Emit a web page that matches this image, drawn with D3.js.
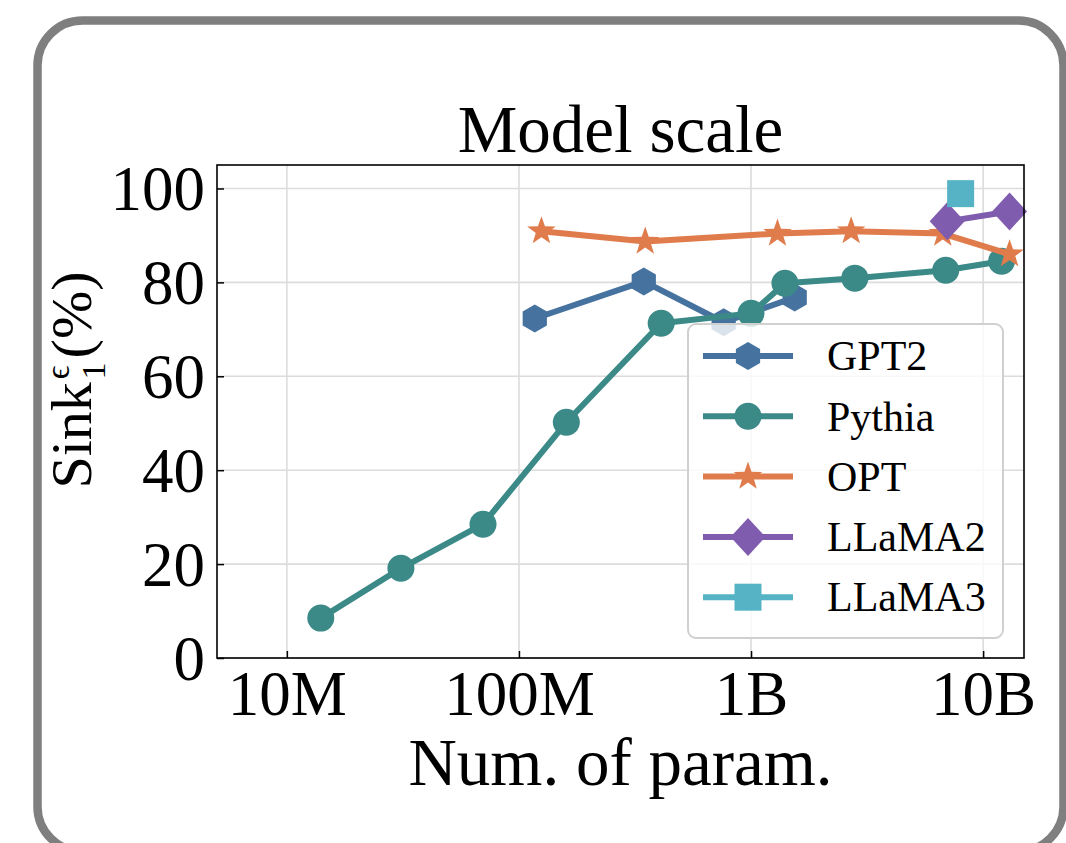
<!DOCTYPE html>
<html>
<head>
<meta charset="utf-8">
<script src="https://cdn.jsdelivr.net/npm/d3@7"></script>
<style>
  body { margin: 0; background: #fff; }
  svg { display: block; font-family: "Liberation Serif", "Times New Roman", serif; }
</style>
</head>
<body>
<svg id="chart" width="1066" height="843"></svg>
<script>
// values (params, sink %)
var gpt2Params = [117e6, 345e6, 762e6, 1.542e9];
var gpt2Sink = [72.3, 80.2, 71.5, 76.8];

var pythiaParams = [14e6, 31e6, 70e6, 160e6, 410e6, 1.0e9, 1.4e9, 2.8e9, 6.9e9, 12e9];
var pythiaSink = [8.5, 19.1, 28.5, 50.2, 71.3, 73.4, 79.8, 80.9, 82.6, 84.5];

var optParams = [125e6, 350e6, 1.3e9, 2.7e9, 6.7e9, 13e9];
var optSink = [90.9, 88.7, 90.4, 90.9, 90.4, 86.0];

var llama2Params = [7e9, 13e9];
var llama2Sink = [93.0, 95.1];

var llama3Params = [8e9];
var llama3Sink = [98.9];

var seriesNames = ["GPT2", "Pythia", "OPT", "LLaMA2", "LLaMA3"];
var xTicks = [1e7, 1e8, 1e9, 1e10];
var xTickLabels = ["10M", "100M", "1B", "10B"];
var yTicks = [0, 20, 40, 60, 80, 100];

var series = [
  {name: "GPT2", x: gpt2Params, y: gpt2Sink, color: "#46729f", marker: "hex"},
  {name: "Pythia", x: pythiaParams, y: pythiaSink, color: "#3b8a88", marker: "circle"},
  {name: "OPT", x: optParams, y: optSink, color: "#e07c4c", marker: "star"},
  {name: "LLaMA2", x: llama2Params, y: llama2Sink, color: "#7f5cae", marker: "diamond"},
  {name: "LLaMA3", x: llama3Params, y: llama3Sink, color: "#55b3c5", marker: "square"}
];

(function() {
  var svg = d3.select("#chart");
  var pl = 217, pr = 1024, pt = 165, pb = 658;

  var x = d3.scaleLog().domain([5e6, 1.5e10]).range([pl, pr]);
  var y = d3.scaleLinear().domain([0, 105]).range([pb, pt]);

  // outer rounded frame
  svg.append("rect")
    .attr("x", 37.5).attr("y", 20.5)
    .attr("width", 1026).attr("height", 831)
    .attr("rx", 45).attr("ry", 45)
    .attr("fill", "none")
    .attr("stroke", "#7f7f7f")
    .attr("stroke-width", 8.5);

  // marker shapes, centred on 0,0
  function markerPath(type) {
    var p = d3.path();
    if (type === "hex") {
      var r = 14;
      for (var i = 0; i < 6; i++) {
        var a = -Math.PI / 2 + i * Math.PI / 3;
        if (i === 0) p.moveTo(r * Math.cos(a), r * Math.sin(a));
        else p.lineTo(r * Math.cos(a), r * Math.sin(a));
      }
      p.closePath();
    } else if (type === "circle") {
      p.arc(0, 0, 13.5, 0, 2 * Math.PI);
    } else if (type === "star") {
      var ro = 15, ri = ro * 0.4;
      for (var j = 0; j < 10; j++) {
        var rr = j % 2 === 0 ? ro : ri;
        var b = -Math.PI / 2 + j * Math.PI / 5;
        if (j === 0) p.moveTo(rr * Math.cos(b), rr * Math.sin(b));
        else p.lineTo(rr * Math.cos(b), rr * Math.sin(b));
      }
      p.closePath();
    } else if (type === "diamond") {
      p.moveTo(0, -19); p.lineTo(17.5, 0); p.lineTo(0, 19); p.lineTo(-17.5, 0); p.closePath();
    } else if (type === "square") {
      p.rect(-13.5, -13.5, 27, 27);
    }
    return p.toString();
  }

  // grid
  var grid = svg.append("g");
  grid.selectAll("line.gy").data(yTicks).enter().append("line")
    .attr("x1", pl).attr("x2", pr)
    .attr("y1", function(d) { return y(d); }).attr("y2", function(d) { return y(d); })
    .attr("stroke", "#dcdcdc").attr("stroke-width", 1.6);
  grid.selectAll("line.gx").data(xTicks).enter().append("line")
    .attr("y1", pt).attr("y2", pb)
    .attr("x1", function(d) { return x(d); }).attr("x2", function(d) { return x(d); })
    .attr("stroke", "#dcdcdc").attr("stroke-width", 1.6);

  // series
  var line = d3.line()
    .x(function(d) { return x(d[0]); })
    .y(function(d) { return y(d[1]); });

  series.forEach(function(s) {
    var pts = d3.zip(s.x, s.y);
    var g = svg.append("g");
    g.append("path")
      .datum(pts)
      .attr("d", line)
      .attr("fill", "none")
      .attr("stroke", s.color)
      .attr("stroke-width", 6)
      .attr("stroke-linejoin", "round");
    g.selectAll("path.m").data(pts).enter().append("path")
      .attr("class", "m")
      .attr("d", markerPath(s.marker))
      .attr("fill", s.color)
      .attr("stroke-linejoin", "miter")
      .attr("transform", function(d) { return "translate(" + x(d[0]) + "," + y(d[1]) + ")"; });
  });

  // axes
  var xAxis = d3.axisBottom(x).tickValues(xTicks)
    .tickFormat(function(d, i) { return xTickLabels[i]; })
    .tickSizeInner(-7).tickSizeOuter(0).tickPadding(12);
  var yAxis = d3.axisLeft(y).tickValues(yTicks)
    .tickSizeInner(-7).tickSizeOuter(0).tickPadding(12);

  var gx = svg.append("g").attr("transform", "translate(0," + pb + ")").call(xAxis);
  var gy = svg.append("g").attr("transform", "translate(" + pl + ",0)").call(yAxis);
  [gx, gy].forEach(function(g) {
    g.select(".domain").remove();
    g.selectAll(".tick line").attr("stroke", "#000").attr("stroke-width", 1.5);
    g.selectAll(".tick text")
      .attr("fill", "#000")
      .style("font-family", '"Liberation Serif", serif')
      .style("font-size", "63px");
  });
  gx.selectAll(".tick text").attr("dy", "0.71em");
  gy.selectAll(".tick text").attr("dy", "0.34em");

  // frame
  svg.append("rect")
    .attr("x", pl).attr("y", pt)
    .attr("width", pr - pl).attr("height", pb - pt)
    .attr("fill", "none").attr("stroke", "#000").attr("stroke-width", 1.6);

  // title & labels
  svg.append("text")
    .attr("x", (pl + pr) / 2).attr("y", 152)
    .attr("text-anchor", "middle")
    .style("font-size", "67px")
    .text("Model scale");

  svg.append("text")
    .attr("x", (pl + pr) / 2).attr("y", 785)
    .attr("text-anchor", "middle")
    .style("font-size", "67px")
    .text("Num. of param.");

  var yl = svg.append("text")
    .attr("transform", "translate(91,380) rotate(-90)")
    .attr("text-anchor", "middle")
    .style("font-size", "58px");
  yl.append("tspan").text("Sink");
  yl.append("tspan").style("font-size", "34px").attr("dy", -22).attr("dx", 3).text("\u03f5");
  yl.append("tspan").style("font-size", "34px").attr("dx", -14).attr("dy", 36).text("1");
  yl.append("tspan").attr("dy", -14).attr("dx", 4).text("(%)");

  // legend
  var lg = svg.append("g").attr("transform", "translate(688,324)");
  lg.append("rect")
    .attr("width", 315).attr("height", 314)
    .attr("rx", 8).attr("ry", 8)
    .attr("fill", "rgba(255,255,255,0.8)")
    .attr("stroke", "#d0d0d0").attr("stroke-width", 2);

  var rows = lg.selectAll("g.row").data(series).enter().append("g")
    .attr("transform", function(d, i) { return "translate(0," + (32 + i * 60.3) + ")"; });
  rows.append("line")
    .attr("x1", 15).attr("x2", 105)
    .attr("stroke", function(d) { return d.color; })
    .attr("stroke-width", 6);
  rows.append("path")
    .attr("d", function(d) { return markerPath(d.marker); })
    .attr("transform", "translate(60,0)")
    .attr("fill", function(d) { return d.color; });
  rows.append("text")
    .attr("x", 139).attr("dy", "0.34em")
    .style("font-size", "42px")
    .text(function(d, i) { return seriesNames[i]; });
})();
</script>
</body>
</html>
